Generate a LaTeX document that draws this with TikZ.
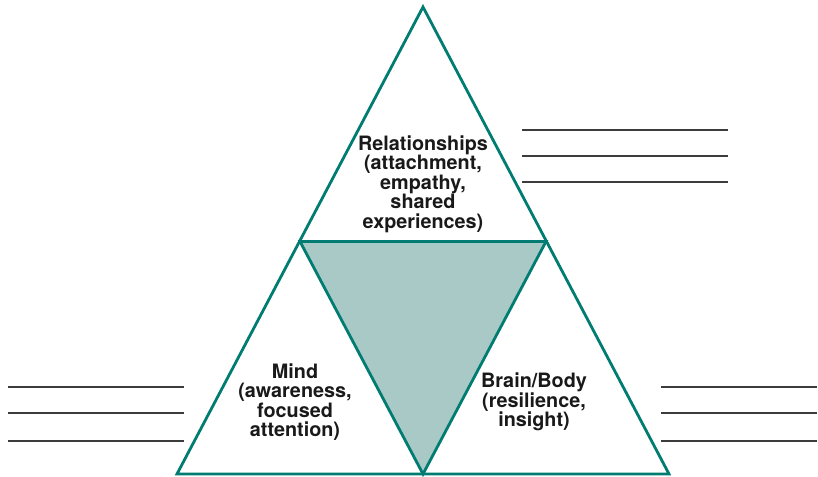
\documentclass[tikz,border=0pt]{standalone}
\usepackage{fontspec}
\setmainfont{TeX Gyre Heros}
\definecolor{teal}{RGB}{0,124,114}
\definecolor{tealfill}{RGB}{168,201,197}
\definecolor{rulegray}{RGB}{60,60,60}
\tikzset{
  edge/.style={draw=teal, line width=2.8pt, line join=miter},
  label/.style={align=center, font=\fontsize{19.8}{19.6}\selectfont\bfseries, text=black!90, inner sep=0pt},
  writeline/.style={draw=rulegray, line width=1.1pt}
}
\begin{document}
\begin{tikzpicture}[x=1pt,y=-1pt]
\useasboundingbox (0,0) rectangle (818,476);
\coordinate (A) at (423,7);
\coordinate (L) at (300,241.5);
\coordinate (R) at (546,241.5);
\coordinate (BL) at (177,474);
\coordinate (BM) at (423,474);
\coordinate (BR) at (669,474);
% inner shaded triangle
\fill[tealfill] (L) -- (R) -- (BM) -- cycle;
\draw[edge] (L) -- (R) -- (BM) -- cycle;
% outer triangle
\draw[edge] (A) -- (BL) -- (BR) -- cycle;
% labels
\node[label] (rel) at (423,184) {Relationships\\(attachment,\\empathy,\\shared\\experiences)};
\node[label] (mind) at (295,402) {Mind\\(awareness,\\focused\\attention)};
\node[label] (brain) at (534,402) {Brain/Body\\(resilience,\\insight)};
% writing lines
\foreach \i/\y in {1/130,2/156,3/182}{
  \coordinate (ta\i) at (522,\y); \coordinate (tb\i) at (728,\y);
  \draw[writeline] (ta\i) -- (tb\i);
}
\foreach \i/\y in {1/387,2/413,3/441}{
  \coordinate (la\i) at (8,\y); \coordinate (lb\i) at (184,\y);
  \draw[writeline] (la\i) -- (lb\i);
  \coordinate (ra\i) at (661,\y); \coordinate (rb\i) at (817,\y);
  \draw[writeline] (ra\i) -- (rb\i);
}
\end{tikzpicture}
\end{document}
